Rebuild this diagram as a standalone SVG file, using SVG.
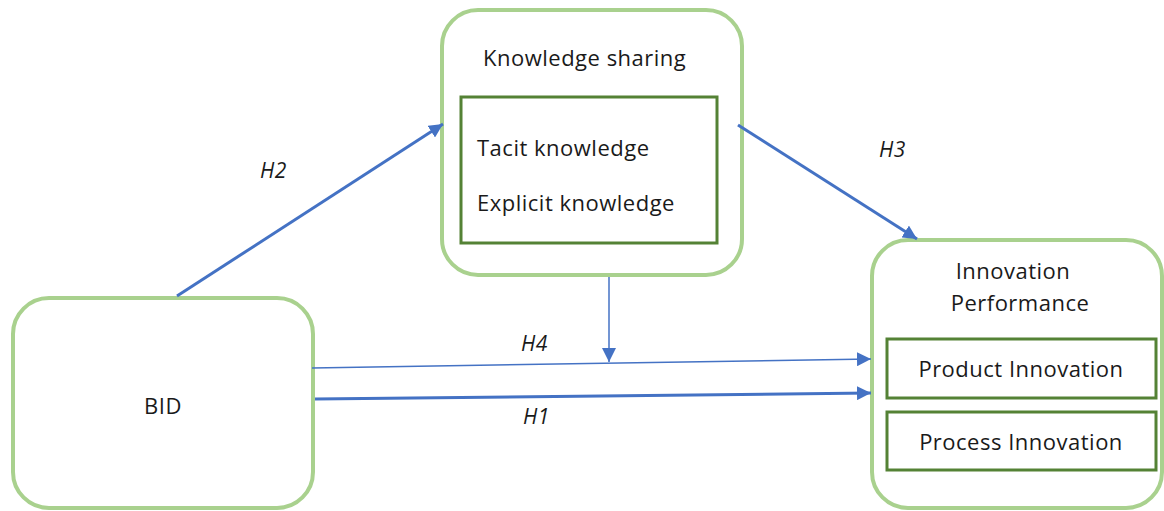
<svg xmlns="http://www.w3.org/2000/svg" width="1164" height="511" viewBox="0 0 1164 511">
<style>
.outer{fill:#fff;stroke:#A9D18E;stroke-width:4}
.inner{fill:#fff;stroke:#548235;stroke-width:3}
.t{font-family:"Open Sans","Noto Sans",sans-serif;font-size:22px;letter-spacing:0.5px;fill:#1a1a1a}
.h{font-family:"Open Sans","Noto Sans",sans-serif;font-size:21px;letter-spacing:0.5px;font-style:italic;fill:#1a1a1a}
.c{fill:none;stroke:#4472C4}
</style>
<defs>
<marker id="ah" markerUnits="userSpaceOnUse" markerWidth="14" markerHeight="14" viewBox="0 0 14 14" refX="14" refY="7" orient="auto">
<path d="M0,0 L14,7 L0,14 Z" fill="#4472C4"/>
</marker>
</defs>
<rect width="1164" height="511" fill="#fff"/>
<g id="node-ks">
<rect class="outer" x="442" y="10" width="300" height="265" rx="36"/>
<rect class="inner" x="461" y="97" width="256" height="146"/>
<text class="t" x="483" y="66">Knowledge sharing</text>
<text class="t" x="477" y="156">Tacit knowledge</text>
<text class="t" x="477" y="211">Explicit knowledge</text>
</g>
<g id="node-bid">
<rect class="outer" x="13" y="298" width="300" height="210" rx="36"/>
<text class="t" x="163" y="414" text-anchor="middle">BID</text>
</g>
<g id="node-ip">
<rect class="outer" x="872" y="240" width="290" height="268" rx="36"/>
<text class="t" x="1013" y="279" text-anchor="middle">Innovation</text>
<text class="t" x="1020" y="311" text-anchor="middle">Performance</text>
<rect class="inner" x="887" y="339" width="269" height="59"/>
<text class="t" x="1021" y="377" text-anchor="middle">Product Innovation</text>
<rect class="inner" x="887" y="412" width="269" height="58"/>
<text class="t" x="1021" y="450" text-anchor="middle">Process Innovation</text>
</g>
<g id="connectors">
<line class="c" x1="177" y1="296" x2="443" y2="124" stroke-width="3" marker-end="url(#ah)"/>
<line class="c" x1="738" y1="125" x2="917" y2="239" stroke-width="3" marker-end="url(#ah)"/>
<line class="c" x1="609" y1="277" x2="609" y2="362" stroke-width="1.5" marker-end="url(#ah)"/>
<line class="c" x1="312" y1="368" x2="871" y2="359" stroke-width="1.5" marker-end="url(#ah)"/>
<line class="c" x1="315" y1="399" x2="871" y2="393" stroke-width="3" marker-end="url(#ah)"/>
</g>
<g id="labels">
<text class="h" x="260" y="178">H2</text>
<text class="h" x="879" y="157">H3</text>
<text class="h" x="521" y="351">H4</text>
<text class="h" x="523" y="424">H1</text>
</g>
</svg>
